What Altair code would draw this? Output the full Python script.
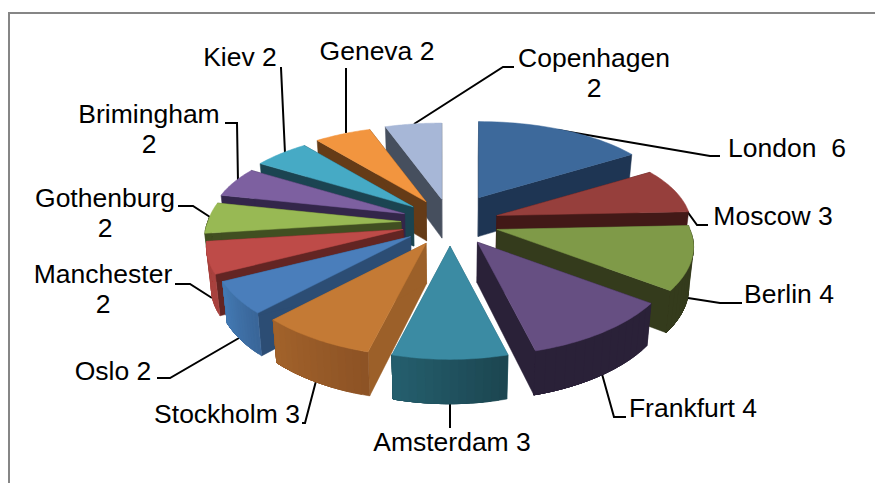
import math
import altair as alt

# ---- chart values ----
CITIES = ["London", "Moscow", "Berlin", "Frankfurt", "Amsterdam", "Stockholm", "Oslo",
          "Manchester", "Gothenburg", "Brimingham", "Kiev", "Geneva", "Copenhagen"]
VALUES = [6, 3, 4, 4, 3, 3, 2, 2, 2, 2, 2, 2, 2]
EXPLODE = [1.2, 1, 1, 1, 1, 1, 1, 1, 1, 1, 1, 1, 1]
TOP = ["#3D699B", "#963F3C", "#7F9A48", "#664F82", "#3B8BA3", "#C47A35", "#4A7EBB",
       "#BE4B48", "#98B954", "#7D60A0", "#46AAC5", "#F2953F", "#A7B7D7"]
CUT = ["#1E3553", "#421917", "#343B1C", "#2A2138", "#25606F", "#9C6029", "#2C4D74",
       "#632523", "#414F21", "#33264A", "#1B4451", "#653B17", "#464F5E"]
RIM_A = ["#1E3553", "#421917", "#343B1C", "#2A2138", "#1C4651", "#8D5325", "#3A6699",
         "#A8423F", "#414F21", "#33264A", "#1B4451", "#653B17", "#464F5E"]
RIM_B = ["#1E3553", "#421917", "#343B1C", "#2A2138", "#25606F", "#A3632B", "#447BB5",
         "#A8423F", "#414F21", "#33264A", "#1B4451", "#653B17", "#464F5E"]
LABELS = ["London\u00a0\u00a06", "Moscow 3", "Berlin 4", "Frankfurt 4", "Amsterdam 3", "Stockholm 3", "Oslo 2",
          "Manchester", "Gothenburg", "Brimingham", "Kiev 2", "Geneva 2", "Copenhagen"]
SECOND_LINE = ["", "", "", "", "", "", "", "2", "2", "2", "", "", "2"]

# ---- layout (page pixels) ----
OX, OY = 8, 8
CX, CY = 450, 222.5
EX, EY = 49, 23.7
RX, RY, PERSP_Y = 193, 91, 0.196
LABEL_XY = [(787, 149), (773, 217), (789, 295), (693, 409), (452, 443), (227, 415), (113, 372),
            (103, 275), (105, 199), (149, 115), (240, 58), (377, 52), (594, 59)]
LEADERS = [
    [(558, 130), (710, 156), (720, 156)],
    [(671, 189), (697, 225), (708, 225)],
    [(688, 298), (720, 303), (742, 303)],
    [(602, 374), (614, 417), (626, 417)],
    [(450, 400), (450, 428)],
    [(316, 381), (305, 423), (302, 423)],
    [(239, 338), (170, 378), (157, 378)],
    [(212, 298), (190, 284), (175, 284)],
    [(210, 217), (193, 206), (178, 206)],
    [(238, 182), (237, 123), (225, 123)],
    [(285, 153), (281, 68), (280, 68)],
    [(346, 133), (346, 68)],
    [(414, 124), (503, 67), (514, 67)],
]
FRAME = [(875, 13), (9, 13), (9, 483)]


def mix(a, b, t):
    ca = [int(a[i:i + 2], 16) for i in (1, 3, 5)]
    cb = [int(b[i:i + 2], 16) for i in (1, 3, 5)]
    return "#" + "".join(f"{round(x + (y - x) * t):02x}" for x, y in zip(ca, cb))


def rim_point(tip, ang):
    v = -math.cos(ang)
    fx = 1 + (0.2 if v > 0 else 0.13) * v
    return (tip[0] + RX * math.sin(ang) * fx,
            tip[1] + RY * v / (1 - PERSP_Y * v))


def lower(p):
    depth = 39 + (p[1] - 200) * 5 / 150
    return (CX + (p[0] - CX) * 0.98, p[1] + depth)


def poly(points, fill):
    ring = [[x - OX, y - OY] for x, y in points]
    ring.append(ring[0])
    return {"type": "Feature", "properties": {"fill": fill},
            "geometry": {"type": "Polygon", "coordinates": [ring]}}


total = sum(VALUES)
slices = []
start = 0.0
for i, val in enumerate(VALUES):
    end = start + val / total * 2 * math.pi
    slices.append((i, start, end))
    start = end

BAND = 2  # arc samples per shaded band of the outer wall
features = []
for i, a0, a1 in sorted(slices, key=lambda s: -math.cos((s[1] + s[2]) / 2)):
    mid = (a0 + a1) / 2
    tip = (CX + EX * EXPLODE[i] * math.sin(mid), CY - EY * EXPLODE[i] * math.cos(mid))
    steps = 28
    angs = [a0 + (a1 - a0) * k / steps for k in range(steps + 1)]
    rim = [rim_point(tip, a) for a in angs]
    # cut faces
    for p in (rim[0], rim[-1]):
        features.append(poly([tip, p, lower(p), lower(tip)], CUT[i]))
    # outer wall: bands painted from the far end so each band overlaps the next
    visible = [k for k in range(steps + 1) if -math.cos(angs[k]) > -0.05]
    if visible:
        first, last = visible[0], visible[-1]
        for k in range(first, last, BAND):
            col = mix(RIM_A[i], RIM_B[i], (k - first) / max(1, last - first))
            seg = rim[k:last + 1]
            features.append(poly(seg + [lower(q) for q in reversed(seg)], col))
    # top face
    features.append(poly([tip] + rim, TOP[i]))

W, H = 867, 475
proj = alt.Projection(type="identity", scale=1, translate=[0, 0])

pie = alt.Chart(alt.InlineData(values={"type": "FeatureCollection", "features": features},
                               format=alt.DataFormat(property="features", type="json"))
                ).mark_geoshape(strokeWidth=0.5, clip=False, opacity=1).encode(
    fill=alt.Fill("properties.fill:N", scale=None),
    stroke=alt.Stroke("properties.fill:N", scale=None),
).project(**proj.to_dict())

line_rows = []
for n, pts in enumerate(LEADERS):
    for k, (x, y) in enumerate(pts):
        line_rows.append({"lon": x - OX, "lat": y - OY, "id": CITIES[n], "k": k})
leaders = alt.Chart(alt.Data(values=line_rows)).mark_line(color="#000000", strokeWidth=2, clip=False).encode(
    longitude="lon:Q", latitude="lat:Q", detail="id:N", order="k:Q"
).project(**proj.to_dict())

frame_rows = [{"lon": x - OX, "lat": y - OY, "k": k} for k, (x, y) in enumerate(FRAME)]
frame = alt.Chart(alt.Data(values=frame_rows)).mark_line(color="#868686", strokeWidth=2, clip=False).encode(
    longitude="lon:Q", latitude="lat:Q", order="k:Q"
).project(**proj.to_dict())

text_rows = []
for n, (x, y) in enumerate(LABEL_XY):
    text_rows.append({"lon": x - OX, "lat": y - OY, "t": LABELS[n]})
    if SECOND_LINE[n]:
        text_rows.append({"lon": x - OX, "lat": y - OY + 30, "t": SECOND_LINE[n]})
texts = alt.Chart(alt.Data(values=text_rows)).mark_text(
    font="Liberation Sans", fontSize=26.5, color="#000000", align="center", baseline="middle"
).encode(longitude="lon:Q", latitude="lat:Q", text="t:N").project(**proj.to_dict())

chart = alt.layer(frame, leaders, pie, texts).properties(
    width=W, height=H, padding=0, background="#ffffff",
    autosize=alt.AutoSizeParams(type="none", contains="padding")
).configure_view(stroke=None)
chart.save("out.html", embed_options={"renderer": "svg", "actions": False})
